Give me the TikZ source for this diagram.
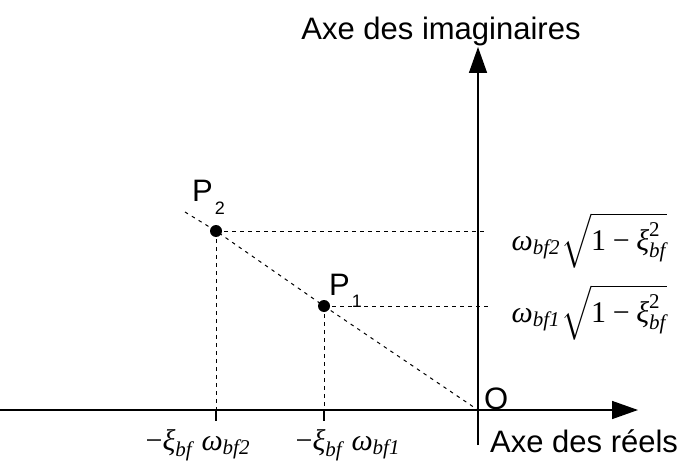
\documentclass[tikz,border=0pt]{standalone}
\usepackage[no-math]{fontspec}
\setmainfont{Liberation Sans}
\newfontfamily\tms{Liberation Serif}
\newcommand\gw{\mbox{\tms\itshape ω}}
\newcommand\gx{\mbox{\tms\itshape ξ}}
\newcommand\ssub[1]{\mbox{\tms\itshape\scriptsize #1}}
\newcommand\tmin{\mathbin{\mbox{\tms −}}}
\usetikzlibrary{arrows.meta}
\begin{document}
\begin{tikzpicture}[x=1pt,y=-1pt,
  axis/.style={line width=1.5pt,-{Triangle[length=26pt,width=18pt]}},
  guide/.style={line width=1pt,dash pattern=on 3.5pt off 4.5pt},
  tick/.style={line width=1.2pt},
  pdot/.style={circle,fill=black,inner sep=0pt,minimum size=12pt},
  lbl/.style={font=\fontsize{31}{35}\selectfont,inner sep=0pt},
  mlbl/.style={scale=3.0,inner sep=0pt}]
\useasboundingbox (0,0) rectangle (679,465);
\coordinate (O) at (478,410);
\coordinate (xs) at (0,410);
\coordinate (xe) at (638,410);
\coordinate (yb) at (478,445);
\coordinate (ye) at (478,47);
\coordinate (dstart) at (185,212);
\coordinate (h2) at (488,231);
\coordinate (h1) at (490,306);
\coordinate (t2) at (216,421);
\coordinate (t1) at (324,421);
\coordinate (a2) at (216,410);
\coordinate (a1) at (324,410);
\node[pdot] (P2) at (216,231) {};
\node[pdot] (P1) at (324,306) {};
% guides
\draw[guide] (dstart) -- (P2.center) -- (P1.center) -- (O);
\draw[guide] (P2.center) -- (h2);
\draw[guide] (P1.center) -- (h1);
\draw[guide] (P2.center) -- (a2);
\draw[guide] (P1.center) -- (a1);
\draw[tick] (a2) -- (t2);
\draw[tick] (a1) -- (t1);
% axes
\draw[axis] (xs) -- (xe);
\draw[axis] (yb) -- (ye);
% labels
\node[lbl,anchor=base] (ylab) at (441,40) {Axe des imaginaires};
\node[lbl,anchor=base west] (xlab) at (490,452) {Axe des réels};
\node[lbl,anchor=base west] (olab) at (484,409) {O};
\node[lbl,anchor=base west] (p2lab) at (192,201) {P\hspace{2pt}\raisebox{-13pt}{\fontsize{18}{21}\selectfont 2}};
\node[lbl,anchor=base west] (p1lab) at (329,295) {P\hspace{2pt}\raisebox{-12pt}{\fontsize{18}{21}\selectfont 1}};
\node[mlbl,anchor=base west] (m2) at (511,250) {$\gw_{\ssub{bf2}}\sqrt{\mbox{\tms 1}\tmin\gx_{\ssub{bf}}^{\mbox{\tms\scriptsize 2}}}$};
\node[mlbl,anchor=base west] (m1) at (511,322) {$\gw_{\ssub{bf1}}\sqrt{\mbox{\tms 1}\tmin\gx_{\ssub{bf}}^{\mbox{\tms\scriptsize 2}}}$};
\node[mlbl,anchor=base west] (b2) at (145,450) {$\mbox{\tms −}\gx_{\ssub{bf}}\;\gw_{\ssub{bf2}}$};
\node[mlbl,anchor=base west] (b1) at (295,450) {$\mbox{\tms −}\gx_{\ssub{bf}}\;\gw_{\ssub{bf1}}$};
\end{tikzpicture}
\end{document}
